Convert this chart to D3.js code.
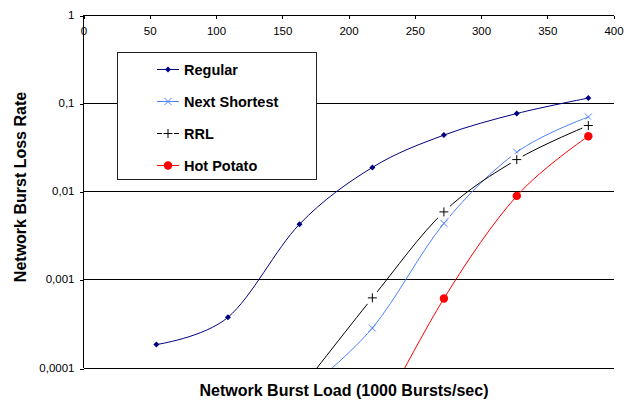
<!DOCTYPE html>
<html><head><meta charset="utf-8">
<script src="https://cdn.jsdelivr.net/npm/d3@7"></script>
<style>
html,body{margin:0;padding:0;background:#fff;}
svg{display:block;font-family:Arial,"Liberation Sans",sans-serif;}
</style></head>
<body><svg id="c" width="632" height="405"></svg>
<script>
// ---- data ----
const loads = [55, 109, 163, 218, 272, 327, 381];
const regular      = [1.82e-4, 3.7e-4, 4.2e-3, 0.0185, 0.043, 0.0755, 0.113];
const nextShortest = [null, null, 4.8e-5, 2.8e-4, 4.3e-3, 0.0275, 0.069];
const rrl          = [null, null, 5.5e-5, 6.15e-4, 5.8e-3, 0.0227, 0.0552];
const hotPotato    = [null, null, null, 2.0e-5, 6.05e-4, 8.8e-3, 0.0418];
const seriesNames  = ["Regular", "Next Shortest", "RRL", "Hot Potato"];
const xTicks = [0, 50, 100, 150, 200, 250, 300, 350, 400];
const yTicks = [1, 0.1, 0.01, 0.001, 0.0001];
const yTickLabels = ["1", "0,1", "0,01", "0,001", "0,0001"];

const svg = d3.select("#c");
const x = d3.scaleLinear().domain([0, 400]).range([83.5, 613.5]);
const y = d3.scaleLog().domain([1e-4, 1]).range([367.5, 14.5]);

const series = [
  {name: seriesNames[0], values: regular, color: "#000080", marker: "diamond"},
  {name: seriesNames[1], values: nextShortest, color: "#4D80FF", marker: "cross"},
  {name: seriesNames[2], values: rrl, color: "#000000", marker: "plus"},
  {name: seriesNames[3], values: hotPotato, color: "#FF0000", marker: "circle"}
];

// gridlines
svg.append("g").selectAll("line").data(yTicks).join("line")
  .attr("x1", x(0)).attr("x2", x(400))
  .attr("y1", d => Math.round(y(d)) + 0.5).attr("y2", d => Math.round(y(d)) + 0.5)
  .attr("stroke", "#000").attr("stroke-width", 1).attr("shape-rendering", "crispEdges");

// y axis
const yAxis = d3.axisLeft(y).tickValues(yTicks).tickFormat((d, i) => yTickLabels[i]).tickSize(4).tickPadding(5);
const gy = svg.append("g").attr("transform", `translate(${x(0)},0)`).call(yAxis);
gy.selectAll("line").attr("transform", d => `translate(0,${Math.round(y(d)) + 0.5 - y(d)})`).attr("shape-rendering", "crispEdges");
gy.select(".domain").attr("d", `M0,${y(1)}V${y(1e-4)}`).attr("shape-rendering", "crispEdges");
gy.selectAll("text").attr("font-size", "11.5px").attr("font-family", "Arial, 'Liberation Sans', sans-serif").attr("fill", "#000");

// top x axis (ticks pointing down, labels below the axis line)
const xAxis = d3.axisBottom(x).tickValues(xTicks).tickFormat(d3.format("d")).tickSize(3).tickPadding(8);
const gx = svg.append("g").attr("transform", `translate(0,${Math.round(y(1)) + 0.5})`).call(xAxis);
gx.select(".domain").attr("d", `M${x(0)},0H${x(400)}`).attr("shape-rendering", "crispEdges");
gx.selectAll("line").attr("shape-rendering", "crispEdges");
gx.selectAll("text").attr("font-size", "11.5px").attr("font-family", "Arial, 'Liberation Sans', sans-serif").attr("fill", "#000");

// clip
svg.append("clipPath").attr("id", "plot").append("rect")
  .attr("x", x(0)).attr("y", y(1)).attr("width", x(400) - x(0)).attr("height", y(1e-4) - y(1) + 0.5);

const line = d3.line().defined(d => d.v != null)
  .x(d => x(d.x)).y(d => y(d.v)).curve(d3.curveCardinal.tension(0));

function drawMarker(g, type, color, cx, cy) {
  if (type === "diamond") {
    g.append("path").attr("d", `M${cx},${cy - 3}L${cx + 3},${cy}L${cx},${cy + 3}L${cx - 3},${cy}Z`).attr("fill", color);
  } else if (type === "cross") {
    g.append("path").attr("d", `M${cx - 3.5},${cy - 3.5}L${cx + 3.5},${cy + 3.5}M${cx - 3.5},${cy + 3.5}L${cx + 3.5},${cy - 3.5}`)
      .attr("stroke", color).attr("stroke-width", 1).attr("fill", "none");
  } else if (type === "plus") {
    g.append("rect").attr("x", cx - 6).attr("y", cy - 6).attr("width", 12).attr("height", 12).attr("fill", "#fff");
    g.append("path").attr("d", `M${cx - 4.5},${cy}H${cx + 4.5}M${cx},${cy - 4.5}V${cy + 4.5}`)
      .attr("stroke", color).attr("stroke-width", 1).attr("fill", "none");
  } else if (type === "circle") {
    g.append("circle").attr("cx", cx).attr("cy", cy).attr("r", 4.2).attr("fill", color);
  }
}

const plot = svg.append("g").attr("clip-path", "url(#plot)");
series.forEach(s => {
  const pts = loads.map((l, i) => ({x: l, v: s.values[i]}));
  const g = plot.append("g");
  g.append("path").datum(pts).attr("d", line).attr("fill", "none").attr("stroke", s.color).attr("stroke-width", 1);
  pts.filter(p => p.v != null && p.v >= 1e-4).forEach(p => drawMarker(g, s.marker, s.color, x(p.x), y(p.v)));
});

// legend
const lg = svg.append("g");
lg.append("rect").attr("x", 117.5).attr("y", 52.5).attr("width", 199).attr("height", 127)
  .attr("fill", "#fff").attr("stroke", "#222").attr("stroke-width", 1);
const rowY = [69.5, 101.5, 133.5, 165.5];
series.forEach((s, i) => {
  const cy = rowY[i];
  lg.append("line").attr("x1", 157).attr("x2", 179).attr("y1", cy).attr("y2", cy).attr("stroke", s.color).attr("stroke-width", 1);
  drawMarker(lg, s.marker, s.color, 168, cy);
  lg.append("text").attr("x", 184).attr("y", cy + 5.2).attr("font-size", "14.5px").attr("font-weight", "bold")
    .attr("fill", "#000").text(s.name);
});

// axis titles
svg.append("text").attr("x", 344).attr("y", 396).attr("text-anchor", "middle")
  .attr("font-size", "16px").attr("font-weight", "bold").text("Network Burst Load (1000 Bursts/sec)");
svg.append("text").attr("transform", "translate(26,187) rotate(-90)").attr("text-anchor", "middle")
  .attr("font-size", "16px").attr("font-weight", "bold").text("Network Burst Loss Rate");
</script></body></html>
